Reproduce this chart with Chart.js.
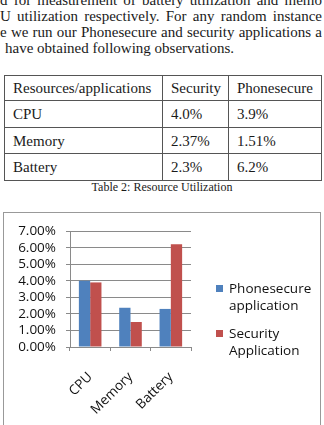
<!DOCTYPE html>
<html>
<head>
<meta charset="utf-8">
<script src="https://cdn.jsdelivr.net/npm/chart.js@4.4.1/dist/chart.umd.min.js"></script>
<style>
  body { margin: 0; width: 324px; height: 425px; overflow: hidden; background: #fff; position: relative;
         font-family: "Liberation Serif", "Times New Roman", serif; color: #1a1a1a; }
  .para { position: absolute; left: 0; top: -8.4px; width: 322px; font-size: 15px; line-height: 16px; }
  .para div { text-align: justify; text-align-last: justify; height: 16px; overflow: hidden; }
  .para div.last { text-align: left; text-align-last: left; padding-left: 5px; }
  table { position: absolute; left: 4px; top: 75px; border-collapse: collapse; font-size: 15px; }
  td { border: 1px solid #555; padding: 1px 0 0 8px; vertical-align: middle; }
  .caption { position: absolute; left: 0; width: 324px; top: 180px; text-align: center; font-size: 12px; }
  .box { position: absolute; left: 3px; top: 212px; width: 316px; height: 230px; border: 1px solid #999; }
  canvas { position: absolute; left: 0; top: 0; }
</style>
</head>
<body>
<div class="para">
  <div>d for measurement of battery utilization and memo</div>
  <div>U utilization respectively. For any random instance</div>
  <div>e we run our Phonesecure and security applications a</div>
  <div class="last">have obtained following observations.</div>
</div>

<table>
  <tr style="height:25px"><td style="width:149px">Resources/applications</td><td style="width:57px">Security</td><td style="width:84px">Phonesecure</td></tr>
  <tr style="height:27px"><td>CPU</td><td>4.0%</td><td>3.9%</td></tr>
  <tr style="height:26px"><td>Memory</td><td>2.37%</td><td>1.51%</td></tr>
  <tr style="height:27px"><td>Battery</td><td>2.3%</td><td>6.2%</td></tr>
</table>
<div class="caption">Table 2: Resource Utilization</div>

<div class="box"><canvas id="resourceChart" width="316" height="212"></canvas></div>

<script>
// chart data
const categories = ['CPU', 'Memory', 'Battery'];
const phonesecureValues = [0.040, 0.0237, 0.023];
const securityValues = [0.039, 0.0151, 0.062];
const seriesNames = ['Phonesecure application', 'Security Application'];
const seriesColors = ['#4f81bd', '#c0504d'];
const yTickValues = [0, 0.01, 0.02, 0.03, 0.04, 0.05, 0.06, 0.07];

const chartFont = { family: '"Open Sans", sans-serif', size: 13.5 };
const gridColor = '#8a8a8a';

// legend on the right, names broken onto two lines like the original
const sideLegend = {
    id: 'sideLegend',
    afterDraw(chart) {
        const ctx = chart.ctx;
        const x = chart.chartArea.right + 25;
        let y = 80;
        ctx.save();
        ctx.font = chartFont.size + 'px ' + chartFont.family;
        ctx.textBaseline = 'alphabetic';
        chart.data.datasets.forEach(ds => {
            ctx.fillStyle = ds.backgroundColor;
            ctx.fillRect(x, y - 8, 7, 7);
            ctx.fillStyle = '#111';
            ds.label.split(' ').forEach((word, i) => {
                ctx.fillText(word, x + 13, y + i * 17);
            });
            y += 45;
        });
        ctx.restore();
    }
};

function createResourceChart() {
    const ctx = document.getElementById('resourceChart').getContext('2d');

    return new Chart(ctx, {
        type: 'bar',
        data: {
            labels: categories,
            datasets: [
                { label: seriesNames[0], data: phonesecureValues, backgroundColor: seriesColors[0] },
                { label: seriesNames[1], data: securityValues, backgroundColor: seriesColors[1] }
            ]
        },
        options: {
            responsive: false,
            animation: false,
            datasets: { bar: { categoryPercentage: 0.56, barPercentage: 1 } },
            layout: { padding: { left: 0, right: 129, top: 14, bottom: 0 } },
            plugins: {
                legend: { display: false },
                tooltip: { enabled: false }
            },
            scales: {
                x: {
                    grid: { display: true, drawOnChartArea: false, offset: true, tickLength: 4, color: gridColor },
                    border: { color: gridColor },
                    ticks: { minRotation: 45, maxRotation: 45, padding: 18, color: '#111', font: chartFont },
                    afterFit(scale) { scale.height = 78; }
                },
                y: {
                    min: 0,
                    max: 0.07,
                    afterBuildTicks(scale) { scale.ticks = yTickValues.map(v => ({ value: v })); },
                    grid: { color: gridColor, tickLength: 4 },
                    border: { color: gridColor },
                    ticks: {
                        autoSkip: false,
                        padding: 10,
                        color: '#111',
                        font: chartFont,
                        callback: v => (v * 100).toFixed(2) + '%'
                    },
                    afterFit(scale) { scale.width = 66; }
                }
            }
        },
        plugins: [sideLegend]
    });
}

document.addEventListener('DOMContentLoaded', () => {
    createResourceChart();
});
</script>
</body>
</html>
